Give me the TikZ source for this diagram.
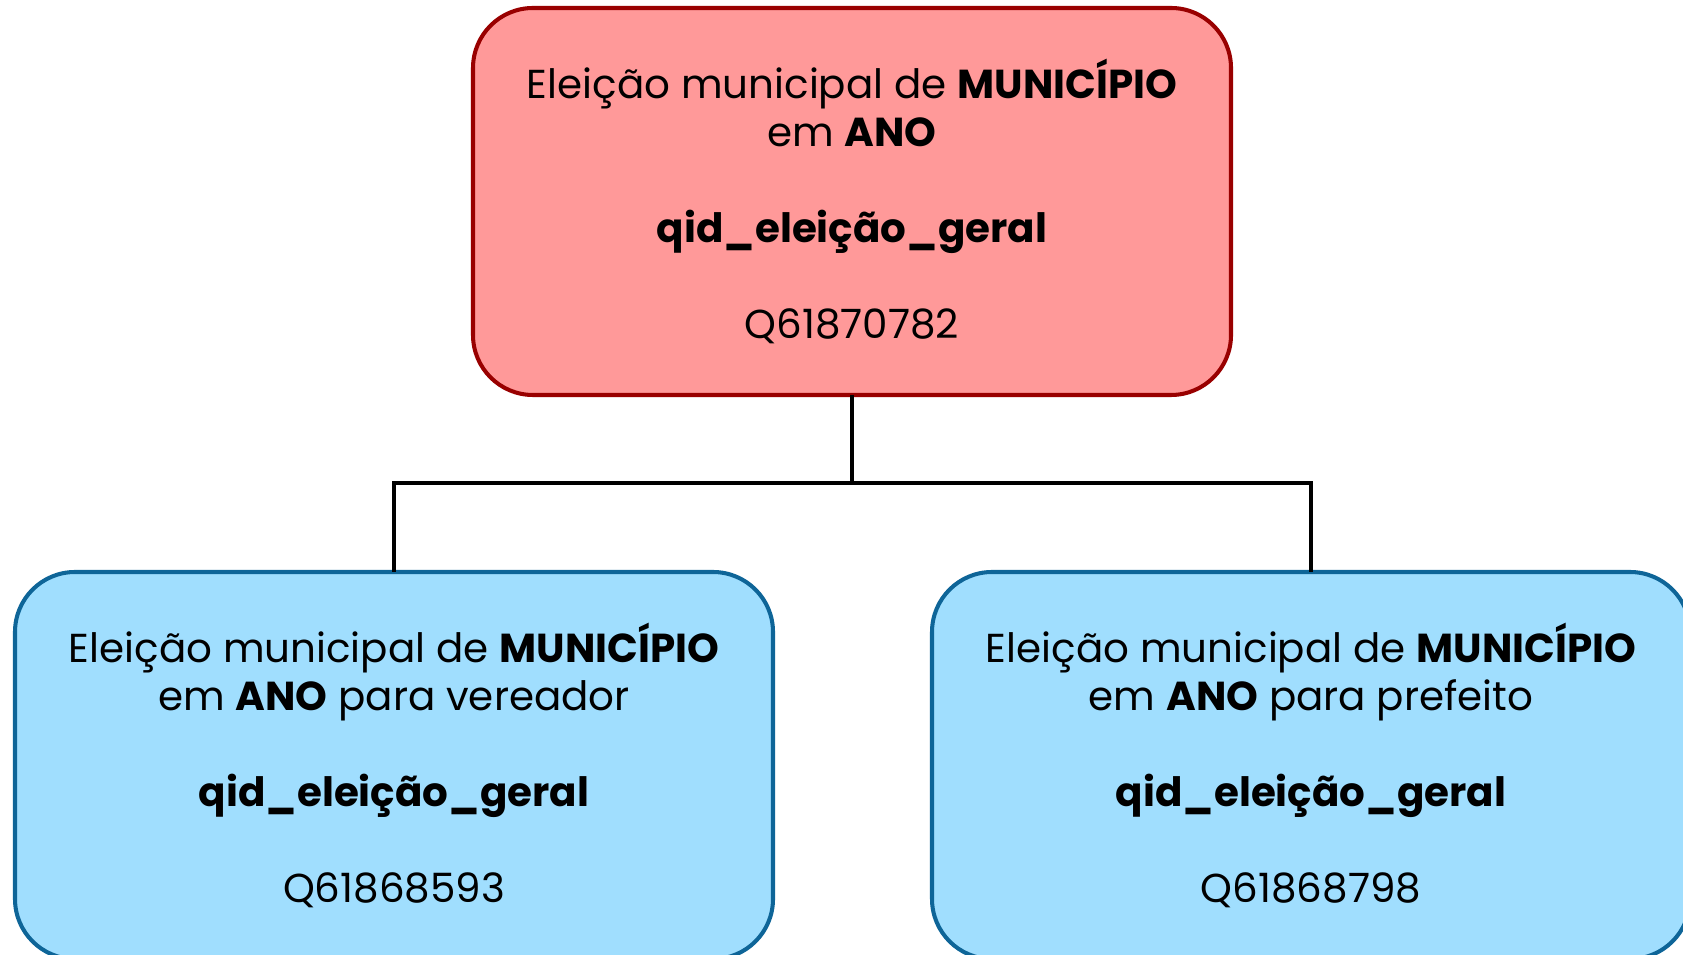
\documentclass[tikz,border=0pt]{standalone}
\usepackage{fontspec}
\setmainfont{Poppins}
\usetikzlibrary{positioning}
\definecolor{geralfill}{HTML}{FF9999}
\definecolor{geralline}{HTML}{990000}
\definecolor{cargofill}{HTML}{A0DEFE}
\definecolor{cargoline}{HTML}{0E6598}
\tikzset{
  eleicao/.style={rounded corners=1.2cm, line width=2.3pt, minimum width=15.16cm,
    minimum height=7.74cm, inner sep=0pt, align=center,
    font=\fontsize{23}{27.3}\selectfont},
  geral/.style={eleicao, draw=geralline, fill=geralfill},
  cargo/.style={eleicao, draw=cargoline, fill=cargofill},
  ligacao/.style={line width=2.2pt, line cap=rect, draw=black}
}
\begin{document}
\begin{tikzpicture}
  \useasboundingbox (0,0) rectangle (33.66,19.08);
  \clip (0,0) rectangle (33.66,19.08);
  \path
  (17.04,15.05) coordinate (G)
  (7.88,3.77) coordinate (V)
  (26.22,3.77) coordinate (P)
  (0,9.42) coordinate (Y)
  ;
  % eleicao geral
  \node[geral] (geral) at (G) {Eleição municipal de \textbf{MUNICÍPIO}\\em \textbf{ANO}\\ \\
    \textbf{qid\_eleição\_geral}\\ \\Q61870782};
  % vereador e prefeito
  \node[cargo] (vereador) at (V) {Eleição municipal de \textbf{MUNICÍPIO}\\em \textbf{ANO} para vereador\\ \\
    \textbf{qid\_eleição\_geral}\\ \\Q61868593};
  \node[cargo] (prefeito) at (P) {Eleição municipal de \textbf{MUNICÍPIO}\\em \textbf{ANO} para prefeito\\ \\
    \textbf{qid\_eleição\_geral}\\ \\Q61868798};

  \coordinate (meio) at (geral.south |- Y);
  \draw[ligacao] (geral.south) -- (meio);
  \draw[ligacao] (vereador.north) |- (meio) -| (prefeito.north);
\end{tikzpicture}
\end{document}
